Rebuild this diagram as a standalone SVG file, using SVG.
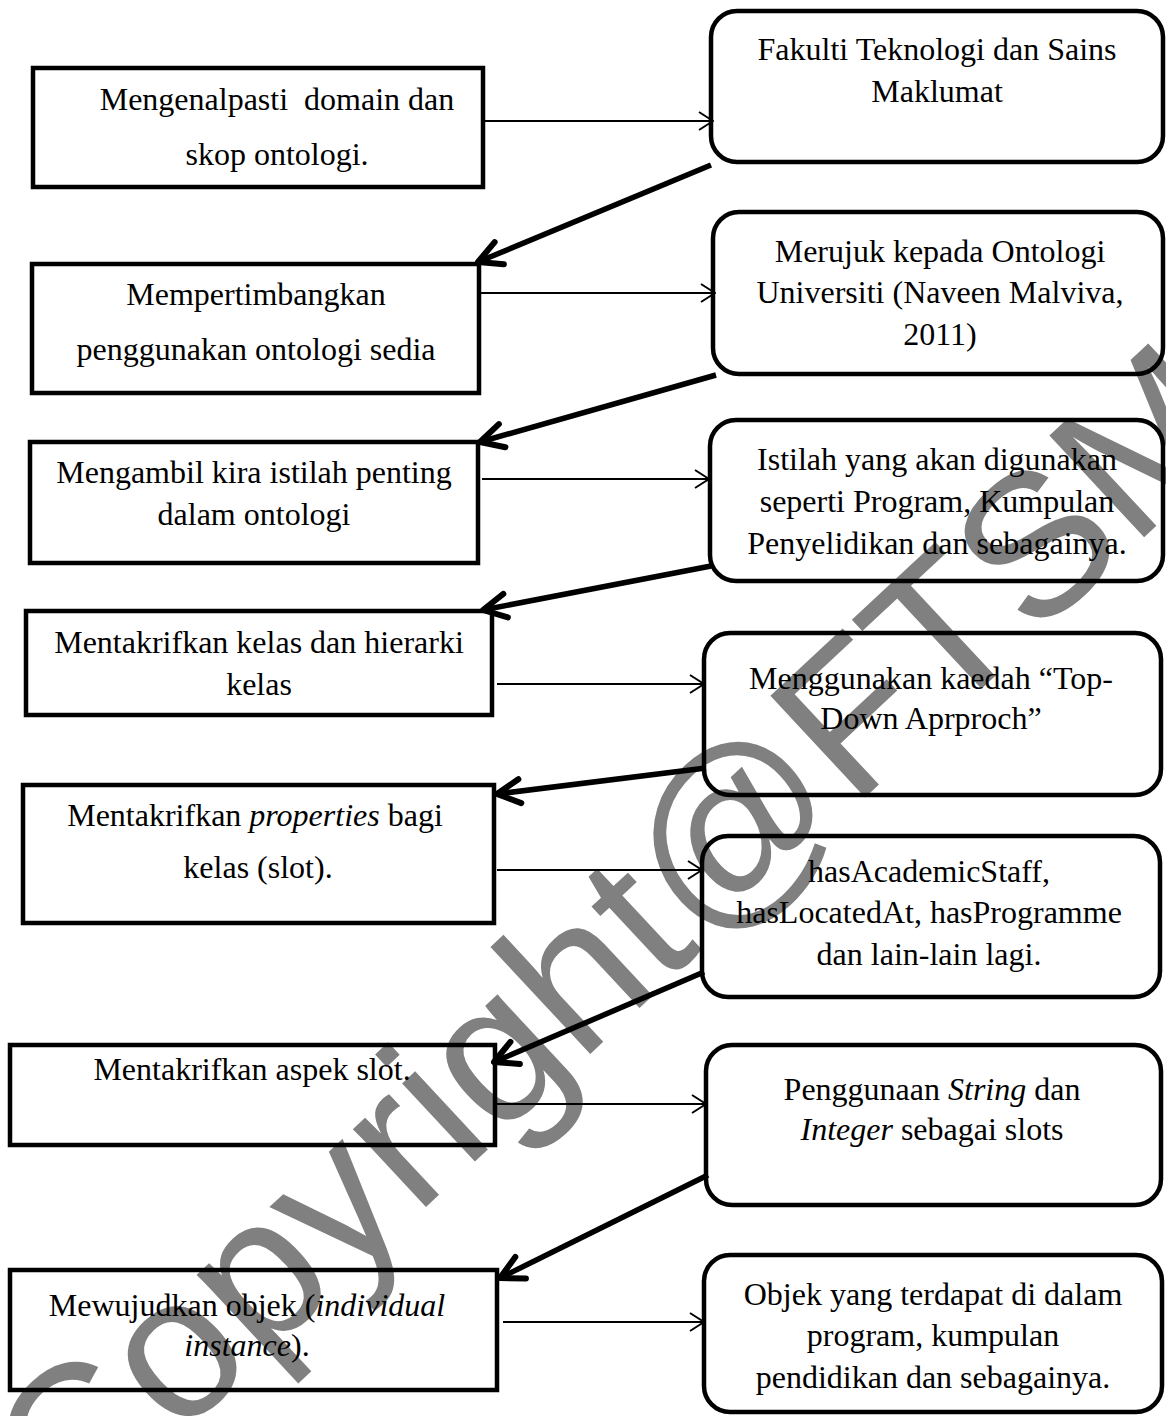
<svg xmlns="http://www.w3.org/2000/svg" width="1166" height="1416" viewBox="0 0 1166 1416">
<style>
.box{fill:none;stroke:#000;stroke-width:4.5}
.rbox{fill:none;stroke:#000;stroke-width:4.5}
.t{font-family:"Liberation Serif","Times New Roman",serif;font-size:32px;fill:#000;text-anchor:middle}
.thin{stroke:#000;stroke-width:2;fill:none;marker-end:url(#ah)}
.thick{stroke:#000;stroke-width:5.5;fill:none;marker-end:url(#ahb)}
.wm{font-family:"Liberation Sans",Arial,sans-serif;font-size:202px;fill:#808080;text-anchor:middle}
</style>
<defs>
<marker id="ah" viewBox="0 0 16 22" refX="15" refY="11" markerWidth="16" markerHeight="22" markerUnits="userSpaceOnUse" orient="auto">
<path d="M1,2 L15,11 L1,20" fill="none" stroke="#000" stroke-width="2"/>
</marker>
<marker id="ahb" viewBox="0 0 30 32" refX="27" refY="16" markerWidth="30" markerHeight="32" markerUnits="userSpaceOnUse" orient="auto">
<path d="M4,4 L27,16 L4,28" fill="none" stroke="#000" stroke-width="6" stroke-linecap="round" stroke-linejoin="round"/>
</marker>
</defs>
<rect width="1166" height="1416" fill="#fff"/>
<g id="watermark">
<text class="wm" x="663" y="986" transform="rotate(-43 663 986)">Copyright@FTSM</text>
</g>
<g id="connectors">
<line class="thin" x1="483" y1="121" x2="713" y2="121"/>
<line class="thin" x1="481" y1="293" x2="715" y2="293"/>
<line class="thin" x1="482" y1="479" x2="709" y2="479"/>
<line class="thin" x1="497" y1="684" x2="704" y2="684"/>
<line class="thin" x1="497" y1="870" x2="702" y2="870"/>
<line class="thin" x1="495" y1="1104" x2="706" y2="1104"/>
<line class="thin" x1="503" y1="1322" x2="704" y2="1322"/>
<line class="thick" x1="711" y1="165" x2="478" y2="262"/>
<line class="thick" x1="716" y1="375" x2="480" y2="442"/>
<line class="thick" x1="711" y1="566" x2="483" y2="610"/>
<line class="thick" x1="706" y1="768" x2="497" y2="794"/>
<line class="thick" x1="704" y1="972" x2="494" y2="1062"/>
<line class="thick" x1="708" y1="1175" x2="500" y2="1278"/>
</g>
<g id="n1">
<rect class="box" x="33" y="68" width="450" height="119"/>
<text class="t" x="277" y="110">Mengenalpasti&#160; domain dan</text>
<text class="t" x="277" y="165">skop ontologi.</text>
</g>
<g id="n2">
<rect class="rbox" x="711" y="11" width="452" height="151" rx="26"/>
<text class="t" x="937" y="60">Fakulti Teknologi dan Sains</text>
<text class="t" x="937" y="102">Maklumat</text>
</g>
<g id="n3">
<rect class="box" x="32" y="264" width="447" height="129"/>
<text class="t" x="256" y="305">Mempertimbangkan</text>
<text class="t" x="256" y="360">penggunakan ontologi sedia</text>
</g>
<g id="n4">
<rect class="rbox" x="713" y="212" width="450" height="162" rx="26"/>
<text class="t" x="940" y="262">Merujuk kepada Ontologi</text>
<text class="t" x="940" y="303">Universiti (Naveen Malviva,</text>
<text class="t" x="940" y="345">2011)</text>
</g>
<g id="n5">
<rect class="box" x="30" y="442" width="448" height="121"/>
<text class="t" x="254" y="483">Mengambil kira istilah penting</text>
<text class="t" x="254" y="525">dalam ontologi</text>
</g>
<g id="n6">
<rect class="rbox" x="710" y="420" width="453" height="161" rx="26"/>
<text class="t" x="937" y="470">Istilah yang akan digunakan</text>
<text class="t" x="937" y="512">seperti Program, Kumpulan</text>
<text class="t" x="937" y="554">Penyelidikan dan sebagainya.</text>
</g>
<g id="n7">
<rect class="box" x="26" y="611" width="466" height="104"/>
<text class="t" x="259" y="653">Mentakrifkan kelas dan hierarki</text>
<text class="t" x="259" y="695">kelas</text>
</g>
<g id="n8">
<rect class="rbox" x="704" y="633" width="457" height="162" rx="26"/>
<text class="t" x="931" y="689">Menggunakan kaedah “Top-</text>
<text class="t" x="931" y="729">Down Aprproch”</text>
</g>
<g id="n9">
<rect class="box" x="23" y="785" width="471" height="138"/>
<text class="t" x="255" y="826">Mentakrifkan <tspan font-style="italic">properties</tspan> bagi</text>
<text class="t" x="258" y="878">kelas (slot).</text>
</g>
<g id="n10">
<rect class="rbox" x="702" y="836" width="458" height="161" rx="26"/>
<text class="t" x="929" y="882">hasAcademicStaff,</text>
<text class="t" x="929" y="923">hasLocatedAt, hasProgramme</text>
<text class="t" x="929" y="965">dan lain-lain lagi.</text>
</g>
<g id="n11">
<rect class="box" x="10" y="1045" width="485" height="100"/>
<text class="t" x="252" y="1080">Mentakrifkan aspek slot.</text>
</g>
<g id="n12">
<rect class="rbox" x="706" y="1045" width="455" height="160" rx="26"/>
<text class="t" x="932" y="1100">Penggunaan <tspan font-style="italic">String</tspan> dan</text>
<text class="t" x="932" y="1140"><tspan font-style="italic">Integer</tspan> sebagai slots</text>
</g>
<g id="n13">
<rect class="box" x="10" y="1270" width="487" height="120"/>
<text class="t" x="247" y="1316">Mewujudkan objek (<tspan font-style="italic">individual</tspan></text>
<text class="t" x="247" y="1356"><tspan font-style="italic">instance</tspan>).</text>
</g>
<g id="n14">
<rect class="rbox" x="704" y="1255" width="458" height="157" rx="26"/>
<text class="t" x="933" y="1305">Objek yang terdapat di dalam</text>
<text class="t" x="933" y="1346">program, kumpulan</text>
<text class="t" x="933" y="1388">pendidikan dan sebagainya.</text>
</g>
</svg>
